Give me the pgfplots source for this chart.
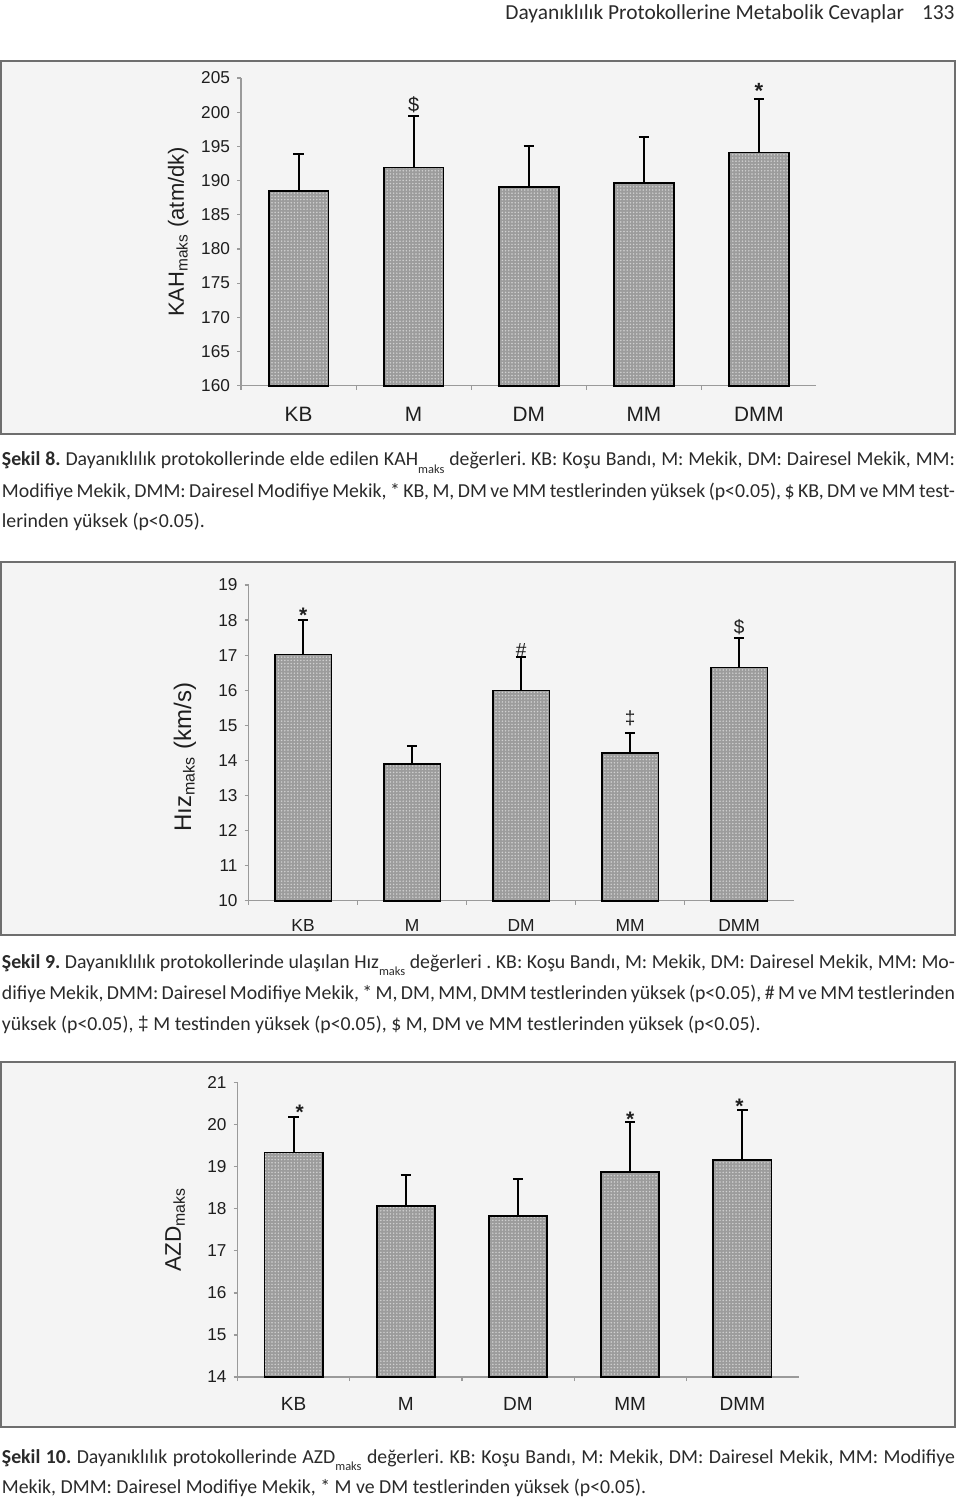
\documentclass[border=0pt]{standalone}
\usepackage{fontspec}
\setmainfont{Carlito}
\newfontfamily\arial{Liberation Sans}
\usepackage{pgfplots}
\pgfplotsset{compat=1.18}
\usepackage{pgfplotstable}
\usetikzlibrary{patterns.meta}
\definecolor{framec}{HTML}{6E6E6E}
\definecolor{bgc}{HTML}{F4F4F4}
\definecolor{barc}{HTML}{9C9C9C}
\definecolor{dotc}{HTML}{D2D2D2}
\definecolor{axc}{HTML}{9A9A9A}
\definecolor{txt}{HTML}{1E1E1E}
\definecolor{captc}{HTML}{2A2A2A}

\tikzdeclarepattern{name=fdots, type=uncolored,
  bottom left={(-0.8pt,-0.8pt)}, top right={(0.8pt,0.8pt)},
  tile size={(1.6pt,1.6pt)},
  code={\fill (0,0) circle (0.42pt);}}

\pgfplotstableread{
x y e
0 188.5 5.4
1 191.9 7.6
2 189.1 6.0
3 189.7 6.6
4 194.1 7.9
}\tabA
\pgfplotstableread{
x y e
0 17.02 0.97
1 13.89 0.52
2 15.99 0.97
3 14.20 0.59
4 16.65 0.84
}\tabB
\pgfplotstableread{
x y e
0 19.34 0.84
1 18.07 0.73
2 17.83 0.87
3 18.87 1.19
4 19.17 1.17
}\tabC

\pgfplotsset{barchart/.style={
  scale only axis,
  axis x line=bottom, axis y line=left,
  axis line style={draw=axc, line width=0.6pt, -},
  xmin=-0.5, xmax=4.5,
  xtick={-0.5,0.5,1.5,2.5,3.5}, xticklabels={},
  tick align=outside, major tick length=2pt,
  tick style={draw=axc, line width=0.6pt},
  extra x ticks={0,1,2,3,4},
  extra x tick labels={KB,M,DM,MM,DMM},
  yticklabel style={font=\arial\fontsize{8.6}{9}\selectfont, text=txt},
  /pgf/number format/assume math mode=true,
  /pgf/number format/1000 sep={},
  clip=false,
}}
\pgfplotsset{barplot/.style={
  ybar, bar width=0.52, draw=black, line width=0.9pt, fill=barc,
  postaction={pattern={fdots}, pattern color=dotc},
  error bars/.cd, y dir=plus, y explicit, error mark=|,
  error bar style={line width=1pt, black},
  error mark options={line width=1pt, black, mark size=2.6pt}
}}
\newcommand\jl[1]{\makebox[476.5pt][s]{#1}}
\newcommand\sub[1]{\textsubscript{#1}}
\newcommand\csub[1]{\raisebox{-0.75ex}{\fontsize{6.2}{6}\selectfont #1}}
\frenchspacing

\begin{document}
\frenchspacing
\begin{tikzpicture}
\path[use as bounding box] (0,0) rectangle (480pt,-751pt);
% header
\node[anchor=base east, inner sep=0, text=captc, font=\fontsize{10.7}{12}\selectfont] at (477.5pt,-9.9pt) {Dayanıklılık Protokollerine Metabolik Cevaplar\hspace{9pt}133};
% frames
\filldraw[fill=bgc, draw=framec, line width=1pt] (0.5pt,-30.75pt) rectangle (477.25pt,-216.75pt);
\filldraw[fill=bgc, draw=framec, line width=1pt] (0.5pt,-281pt) rectangle (477.25pt,-467.5pt);
\filldraw[fill=bgc, draw=framec, line width=1pt] (0.5pt,-531pt) rectangle (477.25pt,-713.5pt);

% chart 1
\begin{axis}[barchart, at={(120.5pt,-192.85pt)}, anchor=south west,
  width=287.75pt, height=153.85pt,
  ymin=160, ymax=205, ytick distance=5,
  extra x tick style={major tick length=0pt, xticklabel style={anchor=base, yshift=-17.8pt, font=\arial\fontsize{10.4}{10}\selectfont, text=txt}},
  ylabel={KAH\sub{maks} (atm/dk)},
  every axis y label/.style={at={(axis description cs:-0.109,0.5)}, rotate=90, anchor=center, font=\arial\fontsize{11}{12}\selectfont, text=txt},
]
\addplot[barplot] table[x=x,y=y,y error=e]{\tabA};
\node[anchor=base, font=\arial\fontsize{10}{9}\selectfont, text=txt, yshift=1.85pt] at (axis cs:1,199.5) {\$};
\node[anchor=base, font=\arial\bfseries\fontsize{11}{9}\selectfont, text=txt, yshift=0pt] at (axis cs:4,202.0) {*};
\end{axis}

% chart 2
\begin{axis}[barchart, at={(124.3pt,-450.35pt)}, anchor=south west,
  width=272.5pt, height=157.85pt,
  ymin=10, ymax=19, ytick distance=1,
  extra x tick style={major tick length=0pt, xticklabel style={anchor=base, yshift=-15.4pt, font=\arial\fontsize{8.7}{10}\selectfont, text=txt}},
  ylabel={Hız\sub{maks} (km/s)},
  every axis y label/.style={at={(axis description cs:-0.117,0.455)}, rotate=90, anchor=center, font=\arial\fontsize{12}{13}\selectfont, text=txt},
]
\addplot[barplot] table[x=x,y=y,y error=e]{\tabB};
\node[anchor=base, font=\arial\bfseries\fontsize{10.5}{9}\selectfont, text=txt, yshift=-1pt] at (axis cs:0,17.99) {*};
\node[anchor=base, font=\arial\fontsize{9.5}{9}\selectfont, text=txt, yshift=0pt] at (axis cs:2,16.96) {\#};
\node[anchor=base, font=\arial\fontsize{9.5}{9}\selectfont, text=txt, yshift=4pt] at (axis cs:3,14.79) {‡};
\node[anchor=base, font=\arial\fontsize{9.5}{9}\selectfont, text=txt, yshift=2.35pt] at (axis cs:4,17.49) {\$};
\end{axis}

% chart 3
\begin{axis}[barchart, at={(118.75pt,-688.5pt)}, anchor=south west,
  width=280.5pt, height=147.15pt,
  ymin=14, ymax=21, ytick distance=1,
  extra x tick style={major tick length=0pt, xticklabel style={anchor=base, yshift=-16.75pt, font=\arial\fontsize{9.5}{10}\selectfont, text=txt}},
  ylabel={AZD\sub{maks}},
  every axis y label/.style={at={(axis description cs:-0.111,0.5)}, rotate=90, anchor=center, font=\arial\fontsize{11.3}{12}\selectfont, text=txt},
]
\addplot[barplot] table[x=x,y=y,y error=e]{\tabC};
\node[anchor=base, font=\arial\bfseries\fontsize{10.5}{9}\selectfont, text=txt, xshift=3pt, yshift=-1.2pt] at (axis cs:0,20.18) {*};
\node[anchor=base, font=\arial\bfseries\fontsize{10.5}{9}\selectfont, text=txt, yshift=-2pt] at (axis cs:3,20.06) {*};
\node[anchor=base, font=\arial\bfseries\fontsize{10.5}{9}\selectfont, text=txt, xshift=-1.5pt, yshift=-1.7pt] at (axis cs:4,20.34) {*};
\end{axis}

% captions
\begin{scope}[every node/.style={anchor=base west, inner sep=0, text=captc, font=\fontsize{9.9}{11}\selectfont}]
\node at (0.75pt,-233pt) {\jl{\textbf{Şekil 8.} Dayanıklılık protokollerinde elde edilen KAH\csub{maks} değerleri. KB: Koşu Bandı, M: Mekik, DM: Dairesel Mekik, MM:}};
\node at (0.75pt,-248.5pt) {\jl{Modifiye Mekik, DMM: Dairesel Modifiye Mekik, * KB, M, DM ve MM testlerinden yüksek (p<0.05), \$ KB, DM ve MM test-}};
\node at (0.75pt,-263.5pt) {lerinden yüksek (p<0.05).};
\node at (0.75pt,-484pt) {\jl{\textbf{Şekil 9.} Dayanıklılık protokollerinde ulaşılan Hız\csub{maks} değerleri . KB: Koşu Bandı, M: Mekik, DM: Dairesel Mekik, MM: Mo-}};
\node at (0.75pt,-499.5pt) {\jl{difiye Mekik, DMM: Dairesel Modifiye Mekik, * M, DM, MM, DMM testlerinden yüksek (p<0.05), \# M ve MM testlerinden}};
\node at (0.75pt,-515pt) {yüksek (p<0.05), {\arial ‡} M testinden yüksek (p<0.05), \$ M, DM ve MM testlerinden yüksek (p<0.05).};
\node at (0.75pt,-731.5pt) {\jl{\textbf{Şekil 10.} Dayanıklılık protokollerinde AZD\csub{maks} değerleri. KB: Koşu Bandı, M: Mekik, DM: Dairesel Mekik, MM: Modifiye}};
\node at (0.75pt,-746.5pt) {Mekik, DMM: Dairesel Modifiye Mekik, * M ve DM testlerinden yüksek (p<0.05).};
\end{scope}
\end{tikzpicture}
\end{document}
